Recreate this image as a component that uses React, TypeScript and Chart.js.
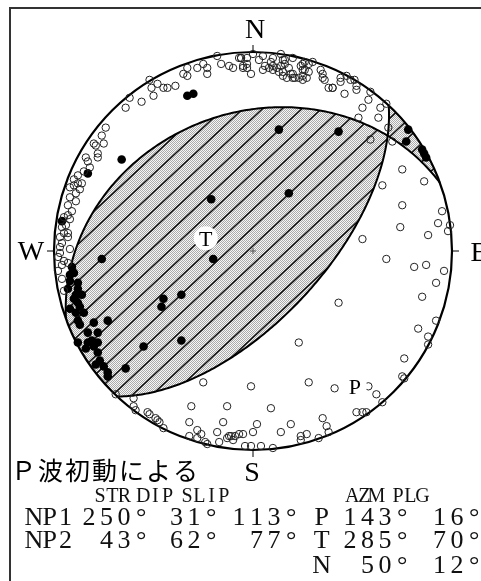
import React, { useEffect, useRef } from 'react';
import { Chart, registerables } from 'chart.js';

Chart.register(...registerables);

// ---- focal mechanism solution ----
const PLANE_NAMES = ['NP1', 'NP2'];
const PLANE_STRIKE = [250, 43];
const PLANE_DIP = [31, 62];
const PLANE_SLIP = [113, 77];
const AXIS_NAMES = ['P', 'T', 'N'];
const AXIS_AZM = [143, 285, 50];
const AXIS_PLG = [16, 70, 12];
const HEADER_LABELS = ['STR', 'DIP', 'SLIP', 'AZM', 'PLG'];
const TITLE = 'Ｐ波初動による';
const COMPASS = ['N', 'E', 'S', 'W'];

// ---- first-motion polarities, lower-hemisphere equal-area coords (% of primitive radius) ----
const DILATATION: [number, number][] = [
  [-18, 98], [-16, 94], [-12, 93], [-25, 94], [-23, 92], [-23, 89], [-28, 92], [-33, 92], [-35, 89], [-33, 88],
  [-10, 92], [-6, 97], [-5, 92], [-1, 89], [-3, 94], [-7, 97],
  [-52, 86], [-48, 84], [-51, 82], [-45, 82], [-43, 82], [-39, 83], [-50, 78], [-56, 75], [-62, 77], [-64, 72],
  [-74, 62], [-76, 58], [-75, 54], [-80, 54], [-79, 53], [-78, 49], [-78, 47], [-84, 47], [-83, 45], [-85, 40],
  [-82, 42], [-88, 38], [-90, 36], [-88, 34], [-86, 34], [-90, 33], [-92, 32], [-87, 31], [-89, 29], [-92, 27],
  [-89, 25], [-93, 23], [-91, 20], [-93, 18], [-92, 16], [-95, 17], [-94, 13], [-96, 12], [-93, 9], [-95, 9],
  [-93, 7], [-97, 7], [-96, 4], [-97, 2], [-92, 1], [-97, -1], [-98, -3], [-95, -5], [-93, -6], [-96, -7],
  [-98, -10], [-96, -14], [-95, -20],
  [-6, 97], [-3, 97], [0, 99], [-5, 93], [-3, 92], [6, 93], [5, 91], [9, 95], [10, 93], [8, 92], [10, 91],
  [12, 92], [14, 93], [14, 99], [15, 96], [16, 94], [13, 90], [15, 88], [17, 87], [19, 89], [20, 87], [20, 97],
  [21, 87], [23, 87], [25, 88], [25, 86], [27, 87], [28, 90], [26, 91], [25, 94], [30, 95], [18, 92], [26, 95],
  [24, 93], [34, 91], [35, 89], [35, 87], [36, 86], [38, 82], [40, 82], [10, 97], [16, 96], [15, 90], [20, 89],
  [25, 91], [28, 94], [3, 96], [5, 98],
  [44, 87], [44, 85], [47, 88], [49, 86], [51, 86], [52, 83], [52, 81], [46, 79], [59, 80], [58, 76], [55, 72],
  [64, 72], [67, 74], [53, 67], [63, 67], [68, 62], [70, 55], [59, 56], [75, 41], [86, 35], [65, 33], [40, 82],
  [75, 23], [95, 20], [93, 14], [74, 12], [88, 8], [98, 10], [99, 13], [55, 6], [67, -4], [81, -8], [87, -7],
  [96, -10], [92, -16], [85, -23], [43, -26], [92, -35], [83, -39], [88, -43], [88, -47], [76, -54], [23, -46],
  [75, -63], [76, -64], [28, -66], [-1, -68], [41, -69], [62, -72], [65, -76], [9, -79], [58, -68], [52, -81],
  [57, -81], [35, -84], [37, -88], [38, -91], [19, -87], [27, -92], [24, -95], [33, -94], [14, -91], [55, -81],
  [-25, -66], [-13, -78], [-31, -78], [-60, -74], [-69, -72], [-60, -78], [-59, -80], [-53, -81], [-52, -82],
  [-49, -84], [-48, -85], [-47, -86], [-45, -89], [-32, -86], [-15, -86], [2, -87], [-28, -90], [-26, -92],
  [-32, -93], [-28, -94], [-24, -96], [-23, -97], [-17, -96], [-13, -94], [-11, -93], [-9, -93], [-10, -95],
  [-5, -92], [0, -91], [-4, -98], [-1, -98], [4, -98], [10, -99], [-18, -91], [-12, -93], [-7, -92], [24, -93],
];

const COMPRESSION: [number, number][] = [
  [-33, 78], [-30, 79], [-66, 46], [-83, 39], [-96, 15], [13, 61], [43, 60], [-21, 26], [18, 29], [-20, -4],
  [-45, -24], [-46, -28], [-36, -22], [-36, -45], [-55, -48], [-64, -59], [-76, -4], [-73, -35],
  [78, 61], [77, 55], [85, 51], [86, 49], [87, 47],
  [-91, -8], [-90, -11], [-92, -15], [-88, -16], [-93, -19], [-88, -19], [-86, -22], [-90, -24], [-88, -26],
  [-92, -29], [-87, -28], [-85, -31], [-89, -31], [-88, -35], [-87, -37], [-80, -36], [-83, -41], [-78, -41],
  [-88, -46], [-83, -46], [-81, -45], [-78, -46], [-84, -49], [-80, -48], [-78, -51], [-77, -55], [-79, -57],
  [-75, -58], [-73, -61], [-73, -63], [-92, -12], [-89, -22],
];

const RAD = Math.PI / 180;
type V3 = [number, number, number];

function planeVectors(strike: number, dip: number) {
  const f = strike * RAD, d = dip * RAD;
  const s: V3 = [Math.cos(f), Math.sin(f), 0];
  const dd: V3 = [-Math.cos(d) * Math.sin(f), Math.cos(d) * Math.cos(f), Math.sin(d)];
  const n: V3 = [Math.sin(f) * Math.sin(d), -Math.cos(f) * Math.sin(d), Math.cos(d)];
  return { s, dd, n };
}
function axisVector(az: number, pl: number): V3 {
  return [Math.cos(pl * RAD) * Math.cos(az * RAD), Math.cos(pl * RAD) * Math.sin(az * RAD), Math.sin(pl * RAD)];
}
// lower hemisphere equal-area (Schmidt) projection, primitive radius 100
function project(v: V3): [number, number] {
  const k = 100 / Math.sqrt(1 + v[2]);
  return [v[1] * k, v[0] * k];
}
const dot = (a: V3, b: V3) => a[0] * b[0] + a[1] * b[1] + a[2] * b[2];

function planeArc(strike: number, dip: number): [number, number][] {
  const { s, dd } = planeVectors(strike, dip);
  const pts: [number, number][] = [];
  for (let t = 0; t <= 180; t += 1) {
    const c = Math.cos(t * RAD), sn = Math.sin(t * RAD);
    pts.push(project([c * s[0] + sn * dd[0], c * s[1] + sn * dd[1], c * s[2] + sn * dd[2]]));
  }
  return pts;
}

function sidePolygon(strike: number, dip: number, sign: number): [number, number][] {
  const pts = planeArc(strike, dip);
  for (let k = 1; k <= 180; k++) {
    const a = (strike + 180 + sign * k) * RAD;
    pts.push([100 * Math.sin(a), 100 * Math.cos(a)]);
  }
  return pts;
}

function drawMono(ctx: CanvasRenderingContext2D, text: string, x: number, y: number, pitch: number, align: 'left' | 'right') {
  const chars = Array.from(text);
  const start = align === 'right' ? x - chars.length * pitch : x;
  ctx.textAlign = 'center';
  chars.forEach((ch, i) => ctx.fillText(ch, start + (i + 0.5) * pitch, y));
}

const beachball = {
  id: 'beachball',
  beforeDatasetsDraw(chart: any) {
    const ctx: CanvasRenderingContext2D = chart.ctx;
    const xs = chart.scales.x, ys = chart.scales.y;
    const P = (x: number, y: number): [number, number] => [xs.getPixelForValue(x), ys.getPixelForValue(y)];
    const cx = xs.getPixelForValue(0), cy = ys.getPixelForValue(0);
    const R = xs.getPixelForValue(100) - cx;
    const path = (pts: [number, number][], close: boolean) => {
      ctx.beginPath();
      pts.forEach(([x, y], i) => { const [px, py] = P(x, y); i ? ctx.lineTo(px, py) : ctx.moveTo(px, py); });
      if (close) ctx.closePath();
    };

    // stipple pattern
    const pc = document.createElement('canvas');
    pc.width = 2; pc.height = 2;
    const g = pc.getContext('2d')!;
    g.fillStyle = '#f6f6f6'; g.fillRect(0, 0, 2, 2);
    g.fillStyle = '#ababab'; g.fillRect(0, 0, 1, 1); g.fillRect(1, 1, 1, 1);
    const pattern = ctx.createPattern(pc, 'repeat')!;

    const n1 = planeVectors(PLANE_STRIKE[0], PLANE_DIP[0]).n;
    const n2 = planeVectors(PLANE_STRIKE[1], PLANE_DIP[1]).n;
    const T = axisVector(AXIS_AZM[1], AXIS_PLG[1]);
    const s1 = Math.sign(dot(T, n1)), s2 = Math.sign(dot(T, n2));

    const th = 43 * RAD;
    const nx = Math.sin(th), ny = Math.cos(th);
    const dc = 18.3 * ny;
    const c0 = 195 * nx + 245 * ny;

    [1, -1].forEach((m) => {
      ctx.save();
      path(sidePolygon(PLANE_STRIKE[0], PLANE_DIP[0], m * s1), true);
      ctx.clip();
      path(sidePolygon(PLANE_STRIKE[1], PLANE_DIP[1], m * s2), true);
      ctx.clip();
      ctx.fillStyle = pattern;
      ctx.fillRect(cx - R - 2, cy - R - 2, 2 * R + 4, 2 * R + 4);
      ctx.strokeStyle = '#111';
      ctx.lineWidth = 1.5;
      for (let k = -40; k <= 40; k++) {
        const c = c0 + k * dc;
        const x0 = c * nx, y0 = c * ny;
        ctx.beginPath();
        ctx.moveTo(x0 - 900 * Math.cos(th), y0 + 900 * Math.sin(th));
        ctx.lineTo(x0 + 900 * Math.cos(th), y0 - 900 * Math.sin(th));
        ctx.stroke();
      }
      ctx.restore();
    });

    // nodal planes
    ctx.strokeStyle = '#000';
    ctx.lineWidth = 2;
    for (let i = 0; i < PLANE_STRIKE.length; i++) {
      path(planeArc(PLANE_STRIKE[i], PLANE_DIP[i]), false);
      ctx.stroke();
    }
    // primitive circle
    ctx.lineWidth = 2.2;
    ctx.beginPath();
    ctx.arc(cx, cy, R, 0, Math.PI * 2);
    ctx.stroke();
    // compass ticks
    ctx.lineWidth = 1;
    ctx.beginPath();
    ctx.moveTo(cx, cy - R); ctx.lineTo(cx, cy - R - 7);
    ctx.moveTo(cx + R, cy); ctx.lineTo(cx + R + 7, cy);
    ctx.moveTo(cx, cy + R); ctx.lineTo(cx, cy + R + 7);
    ctx.moveTo(cx - R, cy); ctx.lineTo(cx - R - 7, cy);
    ctx.stroke();
    // center cross
    ctx.strokeStyle = '#555';
    ctx.beginPath();
    ctx.moveTo(cx - 3, cy); ctx.lineTo(cx + 3, cy);
    ctx.moveTo(cx, cy - 3); ctx.lineTo(cx, cy + 3);
    ctx.stroke();
  },
  afterDatasetsDraw(chart: any) {
    const ctx: CanvasRenderingContext2D = chart.ctx;
    const xs = chart.scales.x, ys = chart.scales.y;
    const cx = xs.getPixelForValue(0), cy = ys.getPixelForValue(0);
    const R = xs.getPixelForValue(100) - cx;
    ctx.save();
    // P and T axes labels
    [0, 1].forEach((i) => {
      const [x, y] = project(axisVector(AXIS_AZM[i], AXIS_PLG[i]));
      const px = xs.getPixelForValue(x), py = ys.getPixelForValue(y);
      ctx.fillStyle = '#fff';
      ctx.beginPath();
      ctx.arc(px, py, 12, 0, Math.PI * 2);
      ctx.fill();
      ctx.fillStyle = '#000';
      ctx.font = '22px "Liberation Serif"';
      ctx.textAlign = 'center';
      ctx.textBaseline = 'alphabetic';
      ctx.fillText(AXIS_NAMES[i], px, py + 7.5);
    });
    // compass letters
    ctx.font = '28px "Liberation Serif"';
    ctx.fillStyle = '#000';
    ctx.textAlign = 'center';
    ctx.fillText(COMPASS[0], cx + 2, cy - R - 14);
    ctx.fillText(COMPASS[1], cx + R + 27, cy + 10);
    ctx.fillText(COMPASS[2], cx - 1, cy + R + 31);
    ctx.fillText(COMPASS[3], cx - R - 23, cy + 9);
    // title
    ctx.textAlign = 'left';
    ctx.font = '25px "Noto Sans CJK JP"';
    (ctx as any).letterSpacing = '2px';
    ctx.fillText(TITLE, 11, 480);
    (ctx as any).letterSpacing = '0px';
    // table (monospaced grid, serif glyphs to mimic Courier)
    ctx.fillStyle = '#111';
    ctx.font = '20px "Liberation Serif"';
    const hx = [94, 137, 181, 346, 392];
    HEADER_LABELS.forEach((h, i) => drawMono(ctx, h, hx[i], 502, 12.2, 'left'));
    ctx.font = '26px "Liberation Serif"';
    const pitch = 17.4;
    const rowY = [525, 548, 573];
    PLANE_NAMES.forEach((nm, i) => {
      drawMono(ctx, nm, 26, rowY[i], 15.8, 'left');
      drawMono(ctx, `${PLANE_STRIKE[i]}°`, 150, rowY[i], pitch, 'right');
      drawMono(ctx, `${PLANE_DIP[i]}°`, 220, rowY[i], pitch, 'right');
      drawMono(ctx, `${PLANE_SLIP[i]}°`, 300, rowY[i], pitch, 'right');
    });
    AXIS_NAMES.forEach((nm, i) => {
      drawMono(ctx, nm, 313, rowY[i], pitch, 'left');
      drawMono(ctx, `${AXIS_AZM[i]}°`, 411, rowY[i], pitch, 'right');
      drawMono(ctx, `${AXIS_PLG[i]}°`, 483, rowY[i], pitch, 'right');
    });
    // frame
    ctx.strokeStyle = '#333';
    ctx.lineWidth = 2;
    ctx.strokeRect(10, 8, 1000, 1000);
    ctx.restore();
  },
};

export default function App() {
  const ref = useRef<HTMLCanvasElement | null>(null);
  useEffect(() => {
    if (!ref.current) return;
    const chart = new Chart(ref.current, {
      type: 'scatter',
      data: {
        datasets: [
          {
            label: 'dilatation',
            data: DILATATION.map(([x, y]) => ({ x, y })),
            pointRadius: 3.7,
            pointBorderWidth: 1,
            pointBorderColor: '#222',
            pointBackgroundColor: 'rgba(0,0,0,0)',
            clip: false as any,
          },
          {
            label: 'compression',
            data: COMPRESSION.map(([x, y]) => ({ x, y })),
            pointRadius: 4.3,
            pointBorderWidth: 0,
            pointBorderColor: '#000',
            pointBackgroundColor: '#000',
            clip: false as any,
          },
        ],
      },
      options: {
        animation: false,
        responsive: false,
        devicePixelRatio: 1,
        events: [],
        layout: { padding: { left: 54, right: 29, top: 52, bottom: 131 } },
        plugins: { legend: { display: false }, tooltip: { enabled: false } },
        scales: {
          x: { type: 'linear', min: -100, max: 100, display: false },
          y: { type: 'linear', min: -100, max: 100, display: false },
        },
      },
      plugins: [beachball],
    });
    return () => chart.destroy();
  }, []);
  return (
    <canvas
      ref={ref}
      width={481}
      height={581}
      style={{ position: 'fixed', left: 0, top: 0, display: 'block', background: '#fff' }}
    />
  );
}
